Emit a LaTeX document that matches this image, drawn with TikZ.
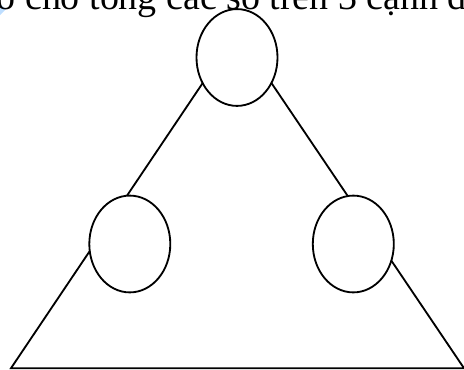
\documentclass[tikz,border=0pt]{standalone}
\usepackage{fontspec}
\setmainfont{Liberation Serif}
\usetikzlibrary{shapes.geometric}
\definecolor{marklight}{RGB}{190,222,255}
\tikzset{numcircle/.style={draw, ellipse, fill=white, line width=1.3pt, minimum width=2.025cm, minimum height=2.42cm, inner sep=0pt}}
\begin{document}
\begin{tikzpicture}
\useasboundingbox (0, 0) rectangle (11.6, 9.225);
\fill[marklight] (0, 9.125) -- (0.15, 9.0) -- (0, 8.85) -- cycle;
\node[anchor=base west, inner sep=0pt, font=\fontsize{27}{30}\selectfont] (txt) at (-0.09, 9.0) {o cho tổng các số trên 3 cạnh đều};
\coordinate (A) at (0.275, 0.02);
\coordinate (B) at (11.6, 0.02);
\coordinate (C) at (5.925, 8.425);
\draw[line width=1.3pt] (A) -- (B) -- (C) -- cycle;
\node[numcircle] (top) at (5.925, 7.7875) {};
\node[numcircle] (left) at (3.245, 3.125) {};
\node[numcircle] (right) at (8.8325, 3.125) {};
\end{tikzpicture}
\end{document}
